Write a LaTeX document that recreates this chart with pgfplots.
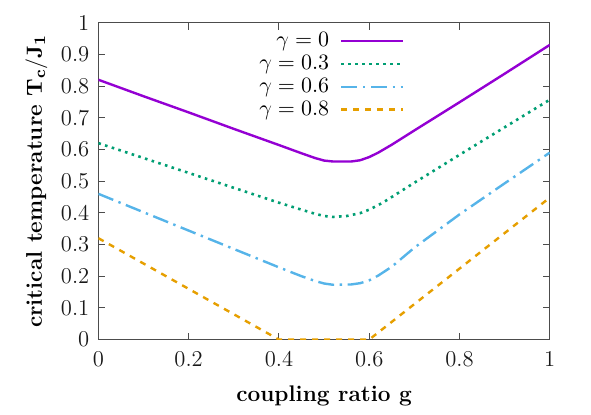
\documentclass[border=0pt]{standalone}
\usepackage{pgfplots}
\pgfplotsset{compat=1.18}
\definecolor{cpurple}{HTML}{9400D3}
\definecolor{cgreen}{HTML}{009E73}
\definecolor{cblue}{HTML}{56B4E9}
\definecolor{corange}{HTML}{E69F00}
\begin{document}
\begin{tikzpicture}
\begin{axis}[
  scale only axis,
  width=225.5pt, height=158.3pt,
  xmin=0, xmax=1, ymin=0, ymax=1,
  xtick={0,0.2,0.4,0.6,0.8,1},
  ytick={0,0.1,0.2,0.3,0.4,0.5,0.6,0.7,0.8,0.9,1},
  xticklabels={0,0.2,0.4,0.6,0.8,1},
  yticklabels={0,0.1,0.2,0.3,0.4,0.5,0.6,0.7,0.8,0.9,1},
  tick align=inside,
  major tick length=3.5pt,
  axis line style={black!70, line width=0.6pt},
  every tick/.style={black!70, line width=0.5pt},
  tick label style={font=\fontsize{11.3}{13.5}\selectfont, black!90},
  xticklabel style={yshift=-2.5pt},
  yticklabel style={xshift=-1pt},
  xlabel={\textbf{coupling ratio g}},
  ylabel={\textbf{critical temperature $\mathbf{T_c/J_1}$}},
  label style={font=\fontsize{11.3}{13.5}\selectfont},
  xlabel style={at={(axis description cs:0.5,-0.177)}, anchor=center},
  ylabel style={at={(axis description cs:-0.1375,0.5)}, anchor=center},
  legend plot pos=right,
  legend cell align=right,
  legend style={at={(axis cs:0.693,0.995)}, anchor=north east, draw=none, fill=none,
    font=\fontsize{11.3}{13.5}\selectfont, row sep=-1.2pt},
  legend image code/.code={\draw[#1] (0pt,0pt) -- (31pt,0pt);},
]
\addplot[cpurple, line width=1.2pt] coordinates {
(0,0.82) (0.1,0.768) (0.2,0.717) (0.3,0.665) (0.4,0.614) (0.45,0.588) (0.48,0.573)
(0.5,0.565) (0.52,0.562) (0.56,0.562) (0.58,0.566) (0.6,0.576) (0.62,0.59) (0.65,0.615)
(0.7,0.66) (0.8,0.749) (0.9,0.839) (1,0.93)};
\addlegendentry{$\gamma = 0$\hspace{3.5pt}\mbox{}}
\addplot[cgreen, line width=1.3pt, dash pattern=on 1.3pt off 2.2pt] coordinates {
(0,0.62) (0.1,0.573) (0.2,0.526) (0.3,0.479) (0.4,0.432) (0.45,0.41) (0.48,0.397)
(0.5,0.39) (0.52,0.387) (0.55,0.39) (0.58,0.399) (0.6,0.41) (0.63,0.432) (0.7,0.495)
(0.8,0.583) (0.9,0.67) (1,0.757)};
\addlegendentry{$\gamma = 0.3$\hspace{3.5pt}\mbox{}}
\addplot[cblue, line width=1.2pt, dash pattern=on 8pt off 2.8pt on 1.2pt off 2.8pt] coordinates {
(0,0.46) (0.1,0.402) (0.2,0.344) (0.3,0.286) (0.4,0.228) (0.45,0.2) (0.48,0.185)
(0.5,0.177) (0.52,0.173) (0.56,0.174) (0.58,0.178) (0.6,0.187) (0.62,0.202) (0.65,0.23)
(0.7,0.29) (0.8,0.395) (0.9,0.493) (1,0.59)};
\addlegendentry{$\gamma = 0.6$\hspace{3.5pt}\mbox{}}
\addplot[corange, line width=1.2pt, dash pattern=on 3pt off 3pt] coordinates {
(0,0.32) (0.1,0.24) (0.2,0.16) (0.3,0.08) (0.4,0) (0.5,0) (0.6,0) (0.7,0.112)
(0.8,0.224) (0.9,0.336) (1,0.448)};
\addlegendentry{$\gamma = 0.8$\hspace{3.5pt}\mbox{}}
\coordinate (bl) at (rel axis cs:0,0);
\coordinate (tr) at (rel axis cs:1,1);
\end{axis}
\path ([xshift=-49.15pt,yshift=-37.35pt]bl) rectangle ([xshift=20.6pt,yshift=11.35pt]tr);
\end{tikzpicture}
\end{document}
